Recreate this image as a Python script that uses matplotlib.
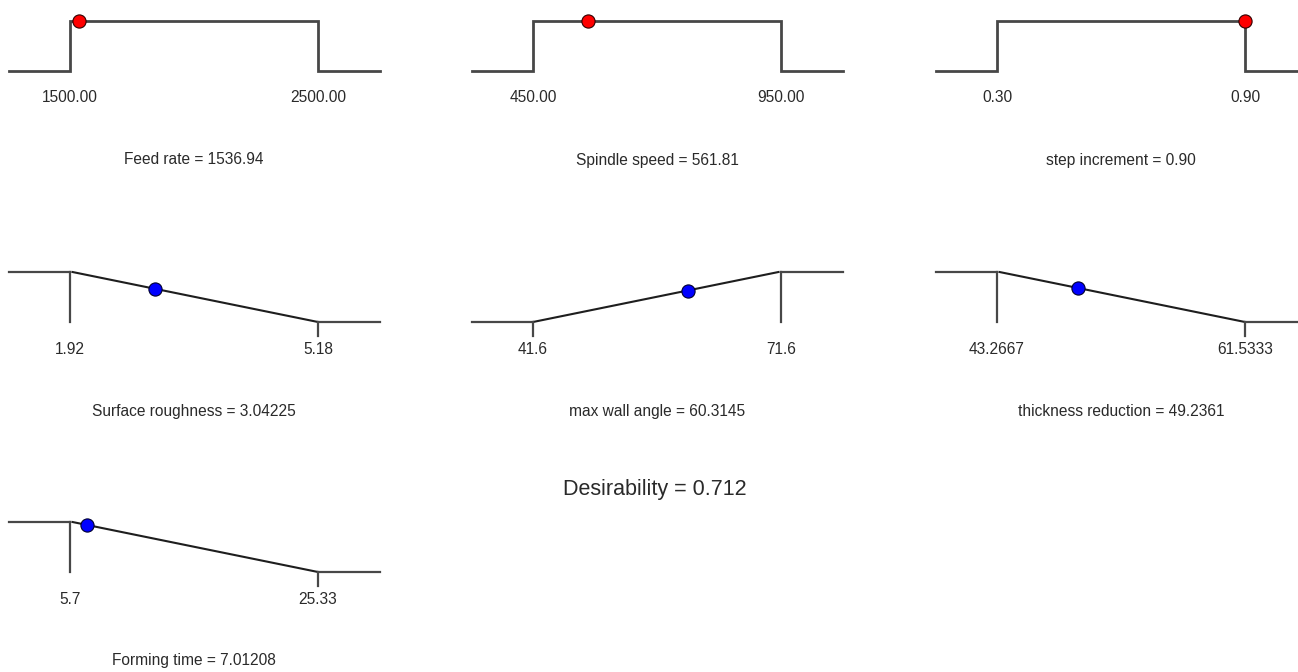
import matplotlib
matplotlib.use('Agg')
from matplotlib import pyplot as plt

# factor / response data
names = ['Feed rate', 'Spindle speed', 'step increment',
         'Surface roughness', 'max wall angle', 'thickness reduction',
         'Forming time']
lows = [1500.0, 450.0, 0.30, 1.92, 41.6, 43.2667, 5.7]
highs = [2500.0, 950.0, 0.90, 5.18, 71.6, 61.5333, 25.33]
low_labels = ['1500.00', '450.00', '0.30', '1.92', '41.6', '43.2667', '5.7']
high_labels = ['2500.00', '950.00', '0.90', '5.18', '71.6', '61.5333', '25.33']
values = [1536.94, 561.81, 0.90, 3.04225, 60.3145, 49.2361, 7.01208]
value_labels = ['1536.94', '561.81', '0.90', '3.04225', '60.3145', '49.2361', '7.01208']
goals = ['range', 'range', 'range', 'min', 'max', 'min', 'min']
desirability = 0.712

W, H = 1298, 672
fig = plt.figure(figsize=(W / 100, H / 100), dpi=100)
fig.patch.set_facecolor('white')

col_x = [9, 472, 936]
row_top = [21, 272, 522]
panel_w, panel_h = 371, 50
lpad, span, rpad = 61, 248, 62

grey = '#474747'
dark = '#1e1e1e'
txt = '#2a2a2a'
font = ['Liberation Sans', 'DejaVu Sans']

for i, name in enumerate(names):
    r, c = divmod(i, 3)
    left = col_x[c]
    top = row_top[r]
    ax = fig.add_axes([left / W, 1 - (top + panel_h) / H, panel_w / W, panel_h / H])
    lo, hi = lows[i], highs[i]
    rng = hi - lo
    xmin = lo - lpad / span * rng
    xmax = hi + rpad / span * rng
    ax.set_xlim(xmin, xmax)
    ax.set_ylim(0, 1)
    ax.axis('off')

    if goals[i] == 'range':
        ax.plot([xmin, lo, lo, hi, hi, xmax], [0, 0, 1, 1, 0, 0],
                color=grey, lw=2, clip_on=False, solid_joinstyle='miter')
        d = 1.0
        color, edge = '#ff0000', '#300000'
    else:
        if goals[i] == 'min':
            d = (hi - values[i]) / rng
            ax.plot([xmin, lo], [1, 1], color=grey, lw=1.6, clip_on=False)
            ax.plot([lo + 0.01 * rng, hi], [1, 0], color=dark, lw=1.5, clip_on=False)
            ax.plot([hi, xmax], [0, 0], color=grey, lw=1.6, clip_on=False)
            ax.plot([lo, lo], [1, 0], color=grey, lw=1.6, clip_on=False)
            ax.plot([hi, hi], [0, -0.28], color=grey, lw=1.6, clip_on=False)
        else:
            d = (values[i] - lo) / rng
            ax.plot([xmin, lo], [0, 0], color=grey, lw=1.6, clip_on=False)
            ax.plot([lo, hi - 0.01 * rng], [0, 1], color=dark, lw=1.5, clip_on=False)
            ax.plot([hi, xmax], [1, 1], color=grey, lw=1.6, clip_on=False)
            ax.plot([lo, lo], [0, -0.28], color=grey, lw=1.6, clip_on=False)
            ax.plot([hi, hi], [1, 0], color=grey, lw=1.6, clip_on=False)
        color, edge = '#0000ff', '#000030'

    ax.plot([values[i]], [d], 'o', color=color, markeredgecolor=edge,
            markeredgewidth=0.8, markersize=9.5, clip_on=False, zorder=5)

    # limit labels and title under each panel
    for xv, lab in [(lo, low_labels[i]), (hi, high_labels[i])]:
        ax.annotate(lab, xy=(xv, 0), xycoords='data', xytext=(0, -27 * 0.72),
                    textcoords='offset points', ha='center', va='center',
                    fontsize=11.2, color=txt, family=font)
    ax.annotate(f'{name} = {value_labels[i]}', xy=((lo + hi) / 2, 0), xycoords='data',
                xytext=(0, -89 * 0.72), textcoords='offset points',
                ha='center', va='center', fontsize=11.2, color=txt, family=font)

fig.text(655 / W, 1 - 489 / H, f'Desirability = {desirability:.3f}',
         ha='center', va='center', fontsize=15.5, color=txt, family=font)

fig.savefig('out.png', dpi=100, facecolor='white')
